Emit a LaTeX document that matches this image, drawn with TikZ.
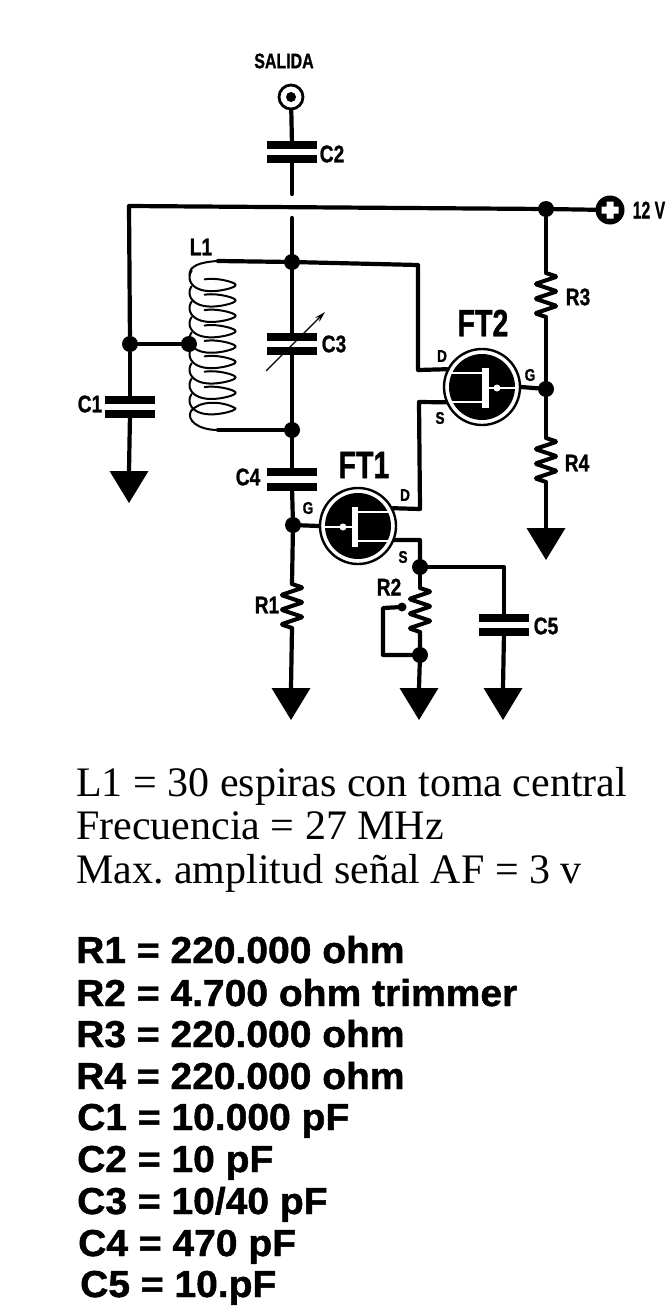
\documentclass[tikz,border=0pt]{standalone}
\usepackage{fontspec}
\setmainfont{Liberation Serif}
\newfontfamily\hv[BoldFeatures={FakeBold=1.2}]{Liberation Sans}
\usetikzlibrary{arrows.meta}
\tikzset{
 wire/.style={line width=4.2pt,line cap=round,line join=round},
 junc/.style={circle,fill=black,inner sep=0pt,minimum size=16pt},
 plate/.style={rectangle,fill=black,inner sep=0pt,minimum width=50pt,minimum height=8pt},
 lab/.style={font=\hv\bfseries\fontsize{24}{24}\selectfont,xscale=.8,transform shape,inner sep=0pt},
 slab/.style={font=\hv\bfseries\fontsize{17}{17}\selectfont,xscale=.8,transform shape,inner sep=0pt},
 big/.style={font=\hv\bfseries\fontsize{38}{38}\selectfont,xscale=.75,transform shape,inner sep=0pt},
 serif/.style={font=\fontsize{42}{42}\selectfont,anchor=base west,inner sep=0pt},
 parts/.style={font=\hv\bfseries\fontsize{37.5}{37.5}\selectfont,xscale=1.04,transform shape,anchor=base west,inner sep=0pt},
 fetbody/.style={circle,draw=black,line width=2.4pt,fill=white,minimum size=76pt,inner sep=0pt},
 coil/.style={line width=2pt,line cap=round},
}
\newcommand{\gnd}[3]{\coordinate (#1) at (#2,#3);
 \fill[black] (#1) ++(-19.5,0) -- ++(39,0) -- ++(-19.5,32) -- cycle;}
\newcommand{\rzig}[4]{\coordinate (#1a) at (#2,#3); \coordinate (#1b) at (#2,#3+#4);
 \draw[line width=4pt,line join=round,rounded corners=1.2pt] (#1a) -- ++(11,.0833*#4) -- ++(-22,.1667*#4) -- ++(22,.1667*#4) -- ++(-22,.1667*#4) -- ++(22,.1667*#4) -- ++(-22,.1667*#4) -- (#1b);}
\newcommand{\fetin}[4]{\node[fetbody] (#1) at (#2,#3) {};
 \begin{scope}[shift={(#2,#3)},xscale=#4]
  \fill[black] (0,0) circle (33);
  \draw[white,line width=2.8pt] (-33,-14) -- (3,-14) (-33,15) -- (3,15);
  \fill[white] (0,-19.5) rectangle (6.5,21);
  \draw[white,line width=2.8pt] (6,1) -- (35,1);
  \fill[white] (15,1) circle (3.5);
 \end{scope}}
\begin{document}
\frenchspacing
\begin{tikzpicture}[x=1pt,y=-1pt]
\path[use as bounding box,fill=white] (0,0) rectangle (665,1311);
% output
\node[lab,font=\hv\bfseries\fontsize{21}{21}\selectfont,xscale=.95] (salida) at (284,61) {SALIDA};
\node[circle,draw=black,line width=2.8pt,fill=white,minimum size=24pt,inner sep=0pt] (out) at (291,97) {};
\fill[black] (out) circle (5);
\node[plate] (c2a) at (292,145) {};
\node[plate] (c2b) at (292,159) {};
\coordinate (c2e) at (292,194);
\draw[wire] (out) -- (c2a);
\draw[wire] (c2b) -- (c2e);
\node[lab] (lc2) at (332,154) {C2};
% rail
\node[junc] (jr) at (546,209) {};
\node[circle,fill=black,minimum size=29pt,inner sep=0pt] (vcc) at (610,210) {};
\fill[white] (601.5,206.5) rectangle (618.5,213.5) (606.5,201.5) rectangle (613.5,218.5);
\node[lab,xscale=.82] (l12) at (649,210) {12 V};
\coordinate (tl) at (129,206);
\node[junc] (jc1) at (130,344) {};
\node[plate] (c1a) at (130,400) {};
\node[plate] (c1b) at (130,414) {};
\gnd{g1}{129}{471}
\draw[wire] (jc1) -- (tl) -- (jr) -- (vcc);
\draw[wire] (jc1) -- (c1a);
\draw[wire] (c1b) -- (g1);
\node[lab] (lc1) at (90,404) {C1};
% tank
\coordinate (t0) at (292,218);
\node[junc] (j1) at (292,262) {};
\node[junc] (j2) at (292,430) {};
\node[plate] (c3a) at (292,337) {};
\node[plate] (c3b) at (292,351) {};
\draw[wire] (t0) -- (j1) -- (c3a);
\draw[wire] (c3b) -- (j2);
\node[lab] (lc3) at (334,344) {C3};
\coordinate (ar0) at (266,371);
\coordinate (ar1) at (325,312);
\draw[line width=1.1pt,-{Stealth[length=11pt,width=6pt]}] (ar0) -- (ar1);
% coil
\coordinate (cs) at (218,261);
\coordinate (ce) at (218,430);
\node[junc] (jl) at (189,344) {};
\draw[wire] (cs) -- (j1);
\draw[wire] (ce) -- (j2);
\draw[wire] (jc1) -- (jl);
\draw[coil] (cs) .. controls (200,262) and (189,266) .. (189.5,275);
\foreach \k/\e in {0/290,1/290,2/290,3/290,4/290,5/290,6/290,7/290,8/180}{
 \draw[coil] plot[smooth,domain={-25}:{\e},samples=42,variable=\t] ({212.5-23*cos(\t)},{277.3+15.4*\k+15.4*\t/360+10*sin(\t)*(1+.3*cos(\t))});
}
\draw[coil] (235,408) .. controls (222,401) and (200,400) .. (191,411) .. controls (186,420) and (198,430) .. (ce);
\node[lab] (ll1) at (201,247) {L1};
% FT1
\node[plate] (c4a) at (292,472) {};
\node[plate] (c4b) at (292,487) {};
\node[junc] (jg1) at (293,525) {};
\draw[wire] (j2) -- (c4a);
\draw[wire] (c4b) -- (jg1);
\node[lab] (lc4) at (248,477) {C4};
\fetin{ft1}{358}{526}{-1}
\draw[wire] (jg1) -- (ft1.west);
\node[big] (lft1) at (364,465) {FT1};
\node[slab] (ld1) at (405,495) {D};
\node[slab] (lg1) at (308,508) {G};
\node[slab] (ls1) at (403,557) {S};
\rzig{r1}{292}{584}{44}
\gnd{g2}{291}{688}
\draw[wire] (jg1) -- (r1a);
\draw[wire] (r1b) -- (g2);
\node[lab] (lr1) at (267,605) {R1};
% source
\node[junc] (js) at (420,567) {};
\coordinate (sb) at (420,540);
\draw[wire] (ft1.-21) -- (sb) -- (js);
\rzig{r2}{420}{588}{44}
\node[junc] (jb) at (420,655) {};
\gnd{g3}{419}{688}
\draw[wire] (js) -- (r2a);
\draw[wire] (r2b) -- (jb) -- (g3);
\coordinate (lp1) at (383,655);
\coordinate (lp2) at (383,608);
\node[circle,fill=black,minimum size=9pt,inner sep=0pt] (wp) at (402,607) {};
\draw[wire] (jb) -- (lp1) -- (lp2) -- (wp);
\node[lab] (lr2) at (389,587) {R2};
\coordinate (c5t) at (504,567);
\node[plate] (c5a) at (504,618) {};
\node[plate] (c5b) at (504,632) {};
\gnd{g4}{503}{688}
\draw[wire] (js) -- (c5t) -- (c5a);
\draw[wire] (c5b) -- (g4);
\node[lab] (lc5) at (546,626) {C5};
% FT2
\fetin{ft2}{482}{387}{1}
\node[big] (lft2) at (483,323) {FT2};
\node[slab] (ld2) at (442,356) {D};
\node[slab] (ls2) at (440,418) {S};
\node[slab] (lg2) at (530,375) {G};
\coordinate (d1) at (418,265);
\coordinate (d2) at (418,370);
\draw[wire] (j1) -- (d1) -- (d2) -- (ft2.153);
\coordinate (s1) at (419,402);
\coordinate (s2) at (420,509);
\draw[wire] (ft2.203) -- (s1) -- (s2) -- (ft1.27);
% right
\rzig{r3}{546}{273}{44}
\node[junc] (jg2) at (546,389) {};
\rzig{r4}{546}{438}{44}
\gnd{g5}{546}{528}
\draw[wire] (jr) -- (r3a);
\draw[wire] (r3b) -- (jg2) -- (r4a);
\draw[wire] (jg2) -- (ft2.east);
\draw[wire] (r4b) -- (g5);
\node[lab] (lr3) at (578,297) {R3};
\node[lab] (lr4) at (577,463) {R4};
% text
\node[serif] (t1) at (76,796) {L1 = 30 espiras con toma central};
\node[serif] (t2) at (76,839) {Frecuencia = 27 MHz};
\node[serif] (t3) at (76,883) {Max. amplitud señal AF = 3 v};
\node[parts] (p1) at (76,963) {R1 = 220.000 ohm};
\node[parts] (p2) at (76,1006) {R2 = 4.700 ohm trimmer};
\node[parts] (p3) at (76,1047) {R3 = 220.000 ohm};
\node[parts] (p4) at (76,1089) {R4 = 220.000 ohm};
\node[parts] (p5) at (77,1130) {C1 = 10.000 pF};
\node[parts] (p6) at (77,1172) {C2 = 10 pF};
\node[parts] (p7) at (77,1214) {C3 = 10/40 pF};
\node[parts] (p8) at (78,1256) {C4 = 470 pF};
\node[parts] (p9) at (80,1297) {C5 = 10.pF};
\end{tikzpicture}
\end{document}
